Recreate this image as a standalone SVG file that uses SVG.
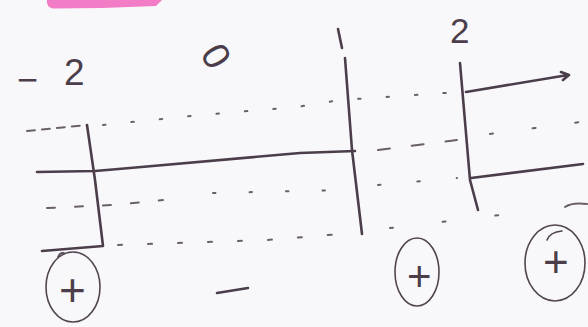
<svg xmlns="http://www.w3.org/2000/svg" width="588" height="327" viewBox="0 0 588 327">
<defs>
<style>
.ln{fill:none;stroke:#4b3e4a;stroke-width:2.6;stroke-linecap:round;stroke-linejoin:round}
.th{fill:none;stroke:#51454f;stroke-width:1.6;stroke-linecap:round}
.dash{fill:none;stroke:#6a6068;stroke-width:2;stroke-linecap:round}
.lbl{font-family:"Liberation Sans","DejaVu Sans",sans-serif;fill:#4b3e4a}
</style>
</defs>
<rect width="588" height="327" fill="#f8f8fb"/>
<path d="M47,0 L162,0 L156,6 Q100,8.5 53,8.5 Q46,7 47,0 Z" fill="#f27cc6"/>

<g id="labels" class="lbl">
<text x="17" y="92" font-size="36">−</text>
<text x="64" y="85" font-size="37">2</text>
<text x="206" y="70" font-size="38" transform="rotate(60 217 56)">0</text>
<text x="450" y="43" font-size="35">2</text>
</g>
<g id="label-1"><path class="ln" d="M338,29 L342,48"/></g>

<g id="guides">
<path class="dash" d="M27,131 L87,125" stroke-dasharray="8 7"/>
<path class="dash" d="M103,125 L200,115 L297,107 L340,100 L460,92" stroke-dasharray="2.5 26"/>
<path class="dash" d="M47,208 L113,205 L163,200" stroke-dasharray="8 20"/>
<path class="dash" d="M213,193 L343,190" stroke-dasharray="2.5 34"/>
<path class="dash" d="M378,185 L457,178" stroke-dasharray="2.5 37"/>
<path class="dash" d="M378,150 L457,140" stroke-dasharray="12 22"/>
<path class="dash" d="M490,134 L580,122" stroke-dasharray="3 40"/>
<path class="dash" d="M118,245 L267,240 L352,233" stroke-dasharray="4 26"/>
<path class="dash" d="M390,228 L542,210" stroke-dasharray="3 50"/>
<path class="dash" d="M565,207 Q572,202 587,204"/>
</g>

<g id="axis-lines">
<path class="ln" d="M37,172 L95,171 L130,168 L300,153 L355,151"/>
<path class="ln" d="M87,125 L95,180 L103,246 L42,251"/>
<path class="ln" d="M345,58 L352,150 L362,234"/>
<path class="ln" d="M460,63 L470,180 L478,210"/>
<path class="ln" d="M466,92 L568,75 M561,72 L569,75 L563,80"/>
<path class="ln" d="M471,178 L583,164"/>
</g>

<g id="sign-plus-left">
<ellipse class="th" cx="73" cy="287" rx="27" ry="35"/>
<path class="th" d="M58,257 Q60,252 64,253"/>
<text class="lbl" x="59" y="306" font-size="46">+</text>
</g>
<g id="sign-minus">
<path class="ln" d="M217,293 L248,288"/>
</g>
<g id="sign-plus-mid">
<ellipse class="th" cx="417" cy="272" rx="22" ry="34"/>
<text class="lbl" x="407" y="291" font-size="42">+</text>
</g>
<g id="sign-plus-right">
<ellipse class="th" cx="555" cy="263" rx="30" ry="38"/>
<path class="th" d="M547,240 Q550,232 562,231"/>
<text class="lbl" x="543" y="277" font-size="44">+</text>
</g>
</svg>
